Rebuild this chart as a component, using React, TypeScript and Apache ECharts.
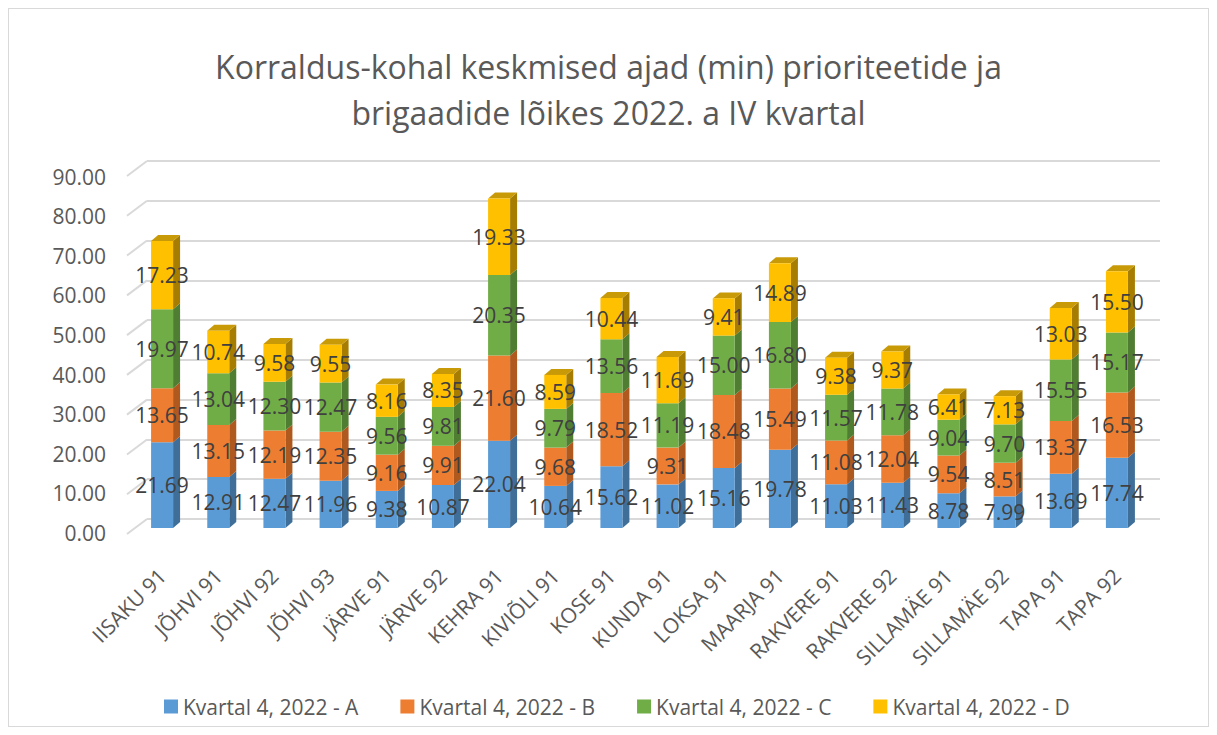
import React, { useEffect, useRef } from "react";
import * as echarts from "echarts";

const categories = [
  "IISAKU 91", "JÕHVI 91", "JÕHVI 92", "JÕHVI 93", "JÄRVE 91", "JÄRVE 92",
  "KEHRA 91", "KIVIÕLI 91", "KOSE 91", "KUNDA 91", "LOKSA 91", "MAARJA 91",
  "RAKVERE 91", "RAKVERE 92", "SILLAMÄE 91", "SILLAMÄE 92", "TAPA 91", "TAPA 92",
];
const seriesNames = [
  "Kvartal 4, 2022 - A",
  "Kvartal 4, 2022 - B",
  "Kvartal 4, 2022 - C",
  "Kvartal 4, 2022 - D",
];
const valuesA = [21.69, 12.91, 12.47, 11.96, 9.38, 10.87, 22.04, 10.64, 15.62, 11.02, 15.16, 19.78, 11.03, 11.43, 8.78, 7.99, 13.69, 17.74];
const valuesB = [13.65, 13.15, 12.19, 12.35, 9.16, 9.91, 21.6, 9.68, 18.52, 9.31, 18.48, 15.49, 11.08, 12.04, 9.54, 8.51, 13.37, 16.53];
const valuesC = [19.97, 13.04, 12.3, 12.47, 9.56, 9.81, 20.35, 9.79, 13.56, 11.19, 15.0, 16.8, 11.57, 11.78, 9.04, 9.7, 15.55, 15.17];
const valuesD = [17.23, 10.74, 9.58, 9.55, 8.16, 8.35, 19.33, 8.59, 10.44, 11.69, 9.41, 14.89, 9.38, 9.37, 6.41, 7.13, 13.03, 15.5];
const yTicks = [0, 10, 20, 30, 40, 50, 60, 70, 80, 90];
const titleLines = [
  "Korraldus-kohal keskmised ajad (min) prioriteetide ja",
  "brigaadide lõikes 2022. a IV kvartal",
];

const allValues = [valuesA, valuesB, valuesC, valuesD];
const frontColors = ["#5B9BD5", "#ED7D31", "#70AD47", "#FFC000"];
const sideColors = ["#3F6F99", "#B0591F", "#4F7D31", "#A67D00"];
const topColor = "#C99A08";
const FONT = "Open Sans";
const BAR_W = 22;
const DEPTH_X = 7;
const DEPTH_Y = 6;

export default function App() {
  const ref = useRef<HTMLDivElement>(null);
  useEffect(() => {
    if (!ref.current) return;
    const chart = echarts.init(ref.current, null, { renderer: "svg" });

    const sideData: number[][] = [];
    categories.forEach((_, i) => {
      let base = 0;
      allValues.forEach((vals, s) => {
        const top = base + vals[i];
        sideData.push([i, base, top, s]);
        base = top;
      });
    });

    const barSeries = allValues.map((vals, s) => ({
      name: seriesNames[s],
      type: "bar",
      stack: "total",
      xAxisIndex: 0,
      yAxisIndex: 0,
      barWidth: BAR_W,
      data: vals,
      itemStyle: { color: frontColors[s] },
      z: 3,
      label: {
        show: true,
        position: "inside",
        color: "#404040",
        fontFamily: FONT,
        fontSize: 21,
        formatter: (p: any) => Number(p.value).toFixed(2),
      },
    }));

    const titleStyle = {
      fontFamily: FONT,
      fontSize: 32,
      fontWeight: "normal",
      color: "#595959",
    };

    const option: any = {
      animation: false,
      backgroundColor: "#ffffff",
      title: [
        { text: titleLines[0], left: "center", top: 36, textStyle: titleStyle },
        { text: titleLines[1], left: "center", top: 82, textStyle: titleStyle },
      ],
      legend: {
        data: seriesNames,
        left: 150,
        top: 682,
        icon: "rect",
        itemWidth: 14,
        itemHeight: 14,
        itemGap: 42,
        textStyle: { fontFamily: FONT, fontSize: 21, color: "#595959" },
      },
      grid: [
        { left: 125, top: 163, width: 1011, height: 356 },
        { left: 138, top: 152, width: 1013, height: 358 },
        { left: 118, top: 167.5, width: 1011, height: 356.5 },
      ],
      xAxis: [
        {
          type: "category",
          gridIndex: 0,
          data: categories,
          axisLine: { show: false },
          axisTick: { show: false },
          axisLabel: {
            rotate: 45,
            margin: 44,
            interval: 0,
            fontFamily: FONT,
            fontSize: 21,
            color: "#595959",
          },
        },
        { type: "category", gridIndex: 1, data: categories, show: false },
        { type: "category", gridIndex: 2, data: categories, show: false },
      ],
      yAxis: [
        { type: "value", gridIndex: 0, min: 0, max: 90, interval: 10, show: false },
        {
          type: "value",
          gridIndex: 1,
          min: 0,
          max: 90,
          interval: 10,
          axisLabel: { show: false },
          axisLine: { show: false },
          axisTick: { show: false },
          splitLine: { show: true, lineStyle: { color: "#D9D9D9", width: 2 } },
        },
        {
          type: "value",
          gridIndex: 2,
          min: 0,
          max: 90,
          interval: 10,
          axisLine: { show: false },
          axisTick: { show: false },
          splitLine: { show: false },
          axisLabel: {
            margin: 21,
            fontFamily: FONT,
            fontSize: 21,
            color: "#595959",
            formatter: (v: number) => v.toFixed(2),
          },
        },
      ],
      series: [
        {
          type: "custom",
          name: "wall",
          xAxisIndex: 1,
          yAxisIndex: 1,
          silent: true,
          z: 1,
          data: yTicks.map((v) => [0, v]),
          renderItem: (params: any, api: any) => {
            const p = api.coord([0, api.value(1)]);
            const x = params.coordSys.x;
            return {
              type: "line",
              shape: { x1: x, y1: p[1], x2: x - 20, y2: p[1] + 15 },
              style: { stroke: "#D9D9D9", lineWidth: 2 },
            };
          },
        },
        ...barSeries,
        {
          type: "custom",
          name: "depth",
          xAxisIndex: 0,
          yAxisIndex: 0,
          silent: true,
          z: 2,
          data: sideData,
          encode: { x: 0, y: 2 },
          renderItem: (params: any, api: any) => {
            const cat = api.value(0);
            const base = api.value(1);
            const top = api.value(2);
            const s = api.value(3);
            const pB = api.coord([cat, base]);
            const pT = api.coord([cat, top]);
            const x0 = pB[0] - BAR_W / 2;
            const x1 = pB[0] + BAR_W / 2;
            const children: any[] = [
              {
                type: "polygon",
                shape: {
                  points: [
                    [x1, pT[1]],
                    [x1 + DEPTH_X, pT[1] - DEPTH_Y],
                    [x1 + DEPTH_X, pB[1] - DEPTH_Y],
                    [x1, pB[1]],
                  ],
                },
                style: { fill: sideColors[s] },
              },
            ];
            if (s === 3) {
              children.push({
                type: "polygon",
                shape: {
                  points: [
                    [x0, pT[1]],
                    [x0 + DEPTH_X, pT[1] - DEPTH_Y],
                    [x1 + DEPTH_X, pT[1] - DEPTH_Y],
                    [x1, pT[1]],
                  ],
                },
                style: { fill: topColor },
              });
            }
            return { type: "group", children };
          },
        },
      ],
    };
    chart.setOption(option);
    return () => chart.dispose();
  }, []);

  return (
    <div style={{ width: 1201, height: 719, border: "1px solid #D9D9D9", boxSizing: "border-box" }}>
      <div ref={ref} style={{ width: 1199, height: 717 }} />
    </div>
  );
}
